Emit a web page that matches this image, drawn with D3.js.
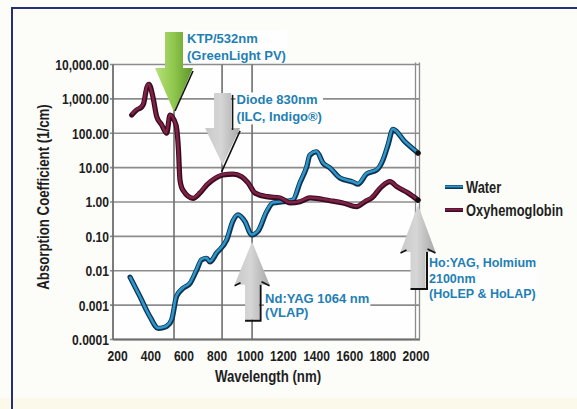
<!DOCTYPE html>
<html><head><meta charset="utf-8">
<script src="https://cdn.jsdelivr.net/npm/d3@7"></script>
<style>
html,body{margin:0;padding:0;background:#fcfcf9;}
svg{display:block;}
.narrow{font-family:"Liberation Sans",Arial,sans-serif;font-weight:bold;fill:#1e1e1e;}
.ann{font-family:"Liberation Sans",Arial,sans-serif;font-weight:bold;fill:#1f80b4;}
</style></head><body>
<svg id="chart" width="577" height="409"></svg>
<script>
// ---- data ----
const waterNm  = [278,338,398,448,477,499,529,559,599,640,680,710,740,760,801,861,899,929,971,1012,1050,1102,1140,1201,1261,1303,1344,1363,1404,1442,1484,1544,1623,1653,1705,1766,1804,1834,1864,1937,2015];
const waterAbs = [0.0065,0.00176,0.00046,0.00021,0.00022,0.00024,0.00037,0.0018,0.0031,0.0043,0.0105,0.021,0.023,0.018,0.033,0.078,0.28,0.42,0.27,0.11,0.14,0.52,0.93,1.02,1.14,3.6,10.6,23,29,13.6,9.8,5.0,3.8,3.3,6.5,8.5,16.7,45,130,56,26.6];
const oxyNm  = [288,318,348,359,380,392,416,439,469,499,519,555,570,579,597,658,700,740,778,838,899,951,990,1032,1102,1183,1243,1303,1363,1484,1562,1645,1695,1736,1796,1846,1887,1955,2015];
const oxyAbs = [340,475,580,710,2200,2650,1135,300,174,100,340,174,33,4.4,2.2,1.28,1.83,3.1,4.4,6.1,6.5,5.45,3.6,1.83,1.43,1.31,0.94,1.02,1.31,1.09,0.94,0.73,1.02,1.31,2.8,3.9,2.8,1.83,1.14];
const seriesNames = ["Water","Oxyhemoglobin"];
const xTicks = [200,400,600,800,1000,1200,1400,1600,1800,2000];
const yTicks = [1e-4,1e-3,1e-2,1e-1,1,10,100,1000,10000];
const yTickLabels = ["0.0001","0.001","0.01","0.10","1.00","10.00","100.00","1,000.00","10,000.00"];
const guideNm = [543,833,1014];
const laserNames = [["KTP/532nm","(GreenLight PV)"],["Diode 830nm","(ILC, Indigo\u00AE)"],["Nd:YAG 1064 nm","(VLAP)"],["Ho:YAG, Holmium","2100nm","(HoLEP & HoLAP)"]];
const laserNm = [543,836,1014,2015];
const laserTipAbs = [415,12,0.07,0.82];
const laserDir = ["down","down","up","up"];
const xTitle = "Wavelength (nm)";
const yTitle = "Absorption Coefficient (1/cm)";

// ---- drawing ----
const svg = d3.select("#chart");
const W = 577, H = 409;
const NARROW = 0.78;
const x = d3.scaleLinear().domain([175, 2015]).range([113, 418]);
const y = d3.scaleLog().domain([1e-4, 1e4]).range([339.5, 64.5]);

svg.append("rect").attr("width",W).attr("height",H).attr("fill","#fcfcf9");
svg.append("rect").attr("x",0).attr("y",398).attr("width",W).attr("height",11).attr("fill","#fbf9ea");
svg.append("path").attr("d","M12,409 L12,8 L577,8").attr("fill","none").attr("stroke","#27306e").attr("stroke-width",2);

const defs = svg.append("defs");
const gG = defs.append("linearGradient").attr("id","gGreen").attr("x1","0").attr("x2","1").attr("y1","0").attr("y2","0");
gG.append("stop").attr("offset","0").attr("stop-color","#b8e27c");
gG.append("stop").attr("offset","0.5").attr("stop-color","#8fc64c");
gG.append("stop").attr("offset","1").attr("stop-color","#5d962c");
const gY = defs.append("linearGradient").attr("id","gGray").attr("x1","0").attr("x2","1").attr("y1","0").attr("y2","0");
gY.append("stop").attr("offset","0").attr("stop-color","#c9c9c9");
gY.append("stop").attr("offset","0.45").attr("stop-color","#d6d6d6");
gY.append("stop").attr("offset","1").attr("stop-color","#a9a9a9");

const plot = svg.append("g");
plot.append("rect").attr("x",x.range()[0]).attr("y",y.range()[1]).attr("width",x.range()[1]-x.range()[0]).attr("height",y.range()[0]-y.range()[1]).attr("fill","#fefefe");

plot.selectAll("line.hg").data(yTicks).join("line").attr("class","hg")
  .attr("x1",x.range()[0]-3).attr("x2",x.range()[1]+2)
  .attr("y1",d=>y(d)).attr("y2",d=>y(d))
  .attr("stroke","#8c8c8c").attr("stroke-width",1.6);
plot.selectAll("line.vg").data(guideNm).join("line").attr("class","vg")
  .attr("x1",d=>x(d)).attr("x2",d=>x(d)).attr("y1",y.range()[1]).attr("y2",y.range()[0])
  .attr("stroke","#6e6e6e").attr("stroke-width",1.6);
plot.append("line").attr("x1",x.range()[0]).attr("x2",x.range()[0]).attr("y1",y.range()[1]).attr("y2",y.range()[0]).attr("stroke","#6e6e6e").attr("stroke-width",1.8);
plot.append("line").attr("x1",x.range()[0]).attr("x2",x.range()[1]+2).attr("y1",y.range()[0]).attr("y2",y.range()[0]).attr("stroke","#6e6e6e").attr("stroke-width",1.8);
plot.append("line").attr("x1",x.range()[1]-2.5).attr("x2",x.range()[1]-2.5).attr("y1",y.range()[1]-2).attr("y2",y.range()[0]).attr("stroke","#8c8c8c").attr("stroke-width",1.3);
plot.append("line").attr("x1",x.range()[1]+1.5).attr("x2",x.range()[1]+1.5).attr("y1",y.range()[1]-2).attr("y2",y.range()[0]).attr("stroke","#8c8c8c").attr("stroke-width",1.3);

// axes
const yAxis = svg.append("g").attr("transform",`translate(${x.range()[0]-4},0)`)
  .call(d3.axisLeft(y).tickValues(yTicks).tickFormat((d,i)=>yTickLabels[i]).tickSize(0).tickPadding(0));
yAxis.select(".domain").remove();
yAxis.selectAll("text").attr("class","narrow").style("font-size","15.5px").attr("fill",null).attr("transform",`scale(${NARROW},1)`);

const xAxis = svg.append("g").attr("transform",`translate(0,${y.range()[0]})`)
  .call(d3.axisBottom(x).tickValues(xTicks).tickFormat(d3.format("d")).tickSize(0).tickPadding(11));
xAxis.select(".domain").remove();
xAxis.selectAll("text").attr("class","narrow").style("font-size","15.5px").attr("fill",null).attr("transform",`scale(${NARROW},1)`);

svg.append("text").attr("class","narrow").attr("transform",`translate(268,382) scale(${NARROW},1)`).attr("text-anchor","middle").style("font-size","17px").text(xTitle);
svg.append("text").attr("class","narrow").attr("transform",`translate(49,197) rotate(-90) scale(${NARROW},1)`).attr("text-anchor","middle").style("font-size","17px").text(yTitle);

// series
const series = [
  {name:seriesNames[0], nm:waterNm, v:waterAbs, outer:"#0d3354", inner:"#2f96c8"},
  {name:seriesNames[1], nm:oxyNm, v:oxyAbs, outer:"#3a0b1e", inner:"#7e2248"}
];
const line = d3.line().x(d=>x(d[0])).y(d=>y(d[1])).curve(d3.curveMonotoneX);
series.forEach(s=>{
  const pts = s.nm.map((n,i)=>[n,s.v[i]]);
  plot.append("path").datum(pts).attr("d",line).attr("fill","none").attr("stroke",s.outer).attr("stroke-width",5.2).attr("stroke-linejoin","round").attr("stroke-linecap","round");
  plot.append("path").datum(pts).attr("d",line).attr("fill","none").attr("stroke",s.inner).attr("stroke-width",2.6).attr("stroke-linejoin","round").attr("transform","translate(-0.3,-0.5)");
  const last = pts[pts.length-1];
  plot.append("circle").attr("cx",x(last[0])).attr("cy",y(last[1])).attr("r",2.6).attr("fill","#111");
});

// legend
const lg = svg.append("g");
series.forEach((s,i)=>{
  const ly = 187 + i*23;
  lg.append("line").attr("x1",445).attr("x2",463).attr("y1",ly).attr("y2",ly).attr("stroke",s.outer).attr("stroke-width",4);
  lg.append("line").attr("x1",445).attr("x2",463).attr("y1",ly-0.5).attr("y2",ly-0.5).attr("stroke",s.inner).attr("stroke-width",2);
  lg.append("text").attr("class","narrow").attr("transform",`translate(466,${ly+6}) scale(${NARROW},1)`).style("font-size","16.5px").text(s.name);
});

// laser arrows
const geom = [
  {headLen:44, headHalf:19, shaftHalf:9, total:80, fill:"url(#gGreen)", dx:13, dy:-69.5, fs:13, lh:17},
  {headLen:37, headHalf:17.5, shaftHalf:8.5, total:72, fill:"url(#gGray)", dx:14, dy:-60.5, fs:13, lh:17},
  {headLen:43, headHalf:17.5, shaftHalf:7, total:78, fill:"url(#gGray)", dx:13, dy:61, fs:13, lh:14},
  {headLen:47, headHalf:17.5, shaftHalf:7.5, total:83, fill:"url(#gGray)", dx:11, dy:62.5, fs:12.5, lh:15.5}
];
const ag = svg.append("g");
laserNm.forEach((n,i)=>{
  const g = geom[i];
  const tx = x(n), ty = y(laserTipAbs[i]);
  const s = laserDir[i]==="down" ? -1 : 1;
  const hb = ty + s*g.headLen, tail = ty + s*g.total;
  const lab = ag.append("g");
  const txt = lab.append("text").attr("class","ann").style("font-size",g.fs+"px");
  laserNames[i].forEach((t,k)=>{
    txt.append("tspan").attr("x",tx+g.dx).attr("y",ty+g.dy+k*g.lh).text(t);
  });
  const bb = txt.node().getBBox();
  lab.insert("rect","text").attr("x",bb.x-1).attr("y",bb.y).attr("width",bb.width+2).attr("height",bb.height).attr("fill","#fefefe");
  const pts = [[tx,ty],[tx+g.headHalf,hb],[tx+g.shaftHalf,hb],[tx+g.shaftHalf,tail],[tx-g.shaftHalf,tail],[tx-g.shaftHalf,hb],[tx-g.headHalf,hb]];
  ag.append("path").attr("d","M"+pts.map(p=>p.join(",")).join("L")+"Z").attr("fill",g.fill);
  const dk = {stroke:"#111", w:1.6};
  if (s === -1) {
    if (i === 0) {
      ag.append("line").attr("x1",tx+g.headHalf).attr("y1",hb+3).attr("x2",tx+1).attr("y2",ty-1).attr("stroke",dk.stroke).attr("stroke-width",dk.w);
    } else {
      ag.append("line").attr("x1",tx+g.shaftHalf+1.5).attr("y1",tail+2).attr("x2",tx+g.shaftHalf+1.5).attr("y2",hb+2).attr("stroke",dk.stroke).attr("stroke-width",dk.w);
      ag.append("line").attr("x1",tx+g.headHalf).attr("y1",hb+3).attr("x2",tx-1).attr("y2",ty+7).attr("stroke",dk.stroke).attr("stroke-width",dk.w);
    }
  } else {
    ag.append("path").attr("d",`M${tx-g.shaftHalf},${tail+1}L${tx+g.shaftHalf+1.5},${tail+1}L${tx+g.shaftHalf+1.5},${hb}`).attr("fill","none").attr("stroke",dk.stroke).attr("stroke-width",dk.w+0.4);
    ag.append("path").attr("d",`M${tx-g.headHalf},${hb+1}L${tx-g.headHalf+6},${hb-2}`).attr("fill","none").attr("stroke",dk.stroke).attr("stroke-width",dk.w);
    ag.append("path").attr("d",`M${tx+g.headHalf-8},${hb-3}L${tx+g.headHalf},${hb+1}`).attr("fill","none").attr("stroke",dk.stroke).attr("stroke-width",dk.w);
  }
});
</script>
</body></html>
